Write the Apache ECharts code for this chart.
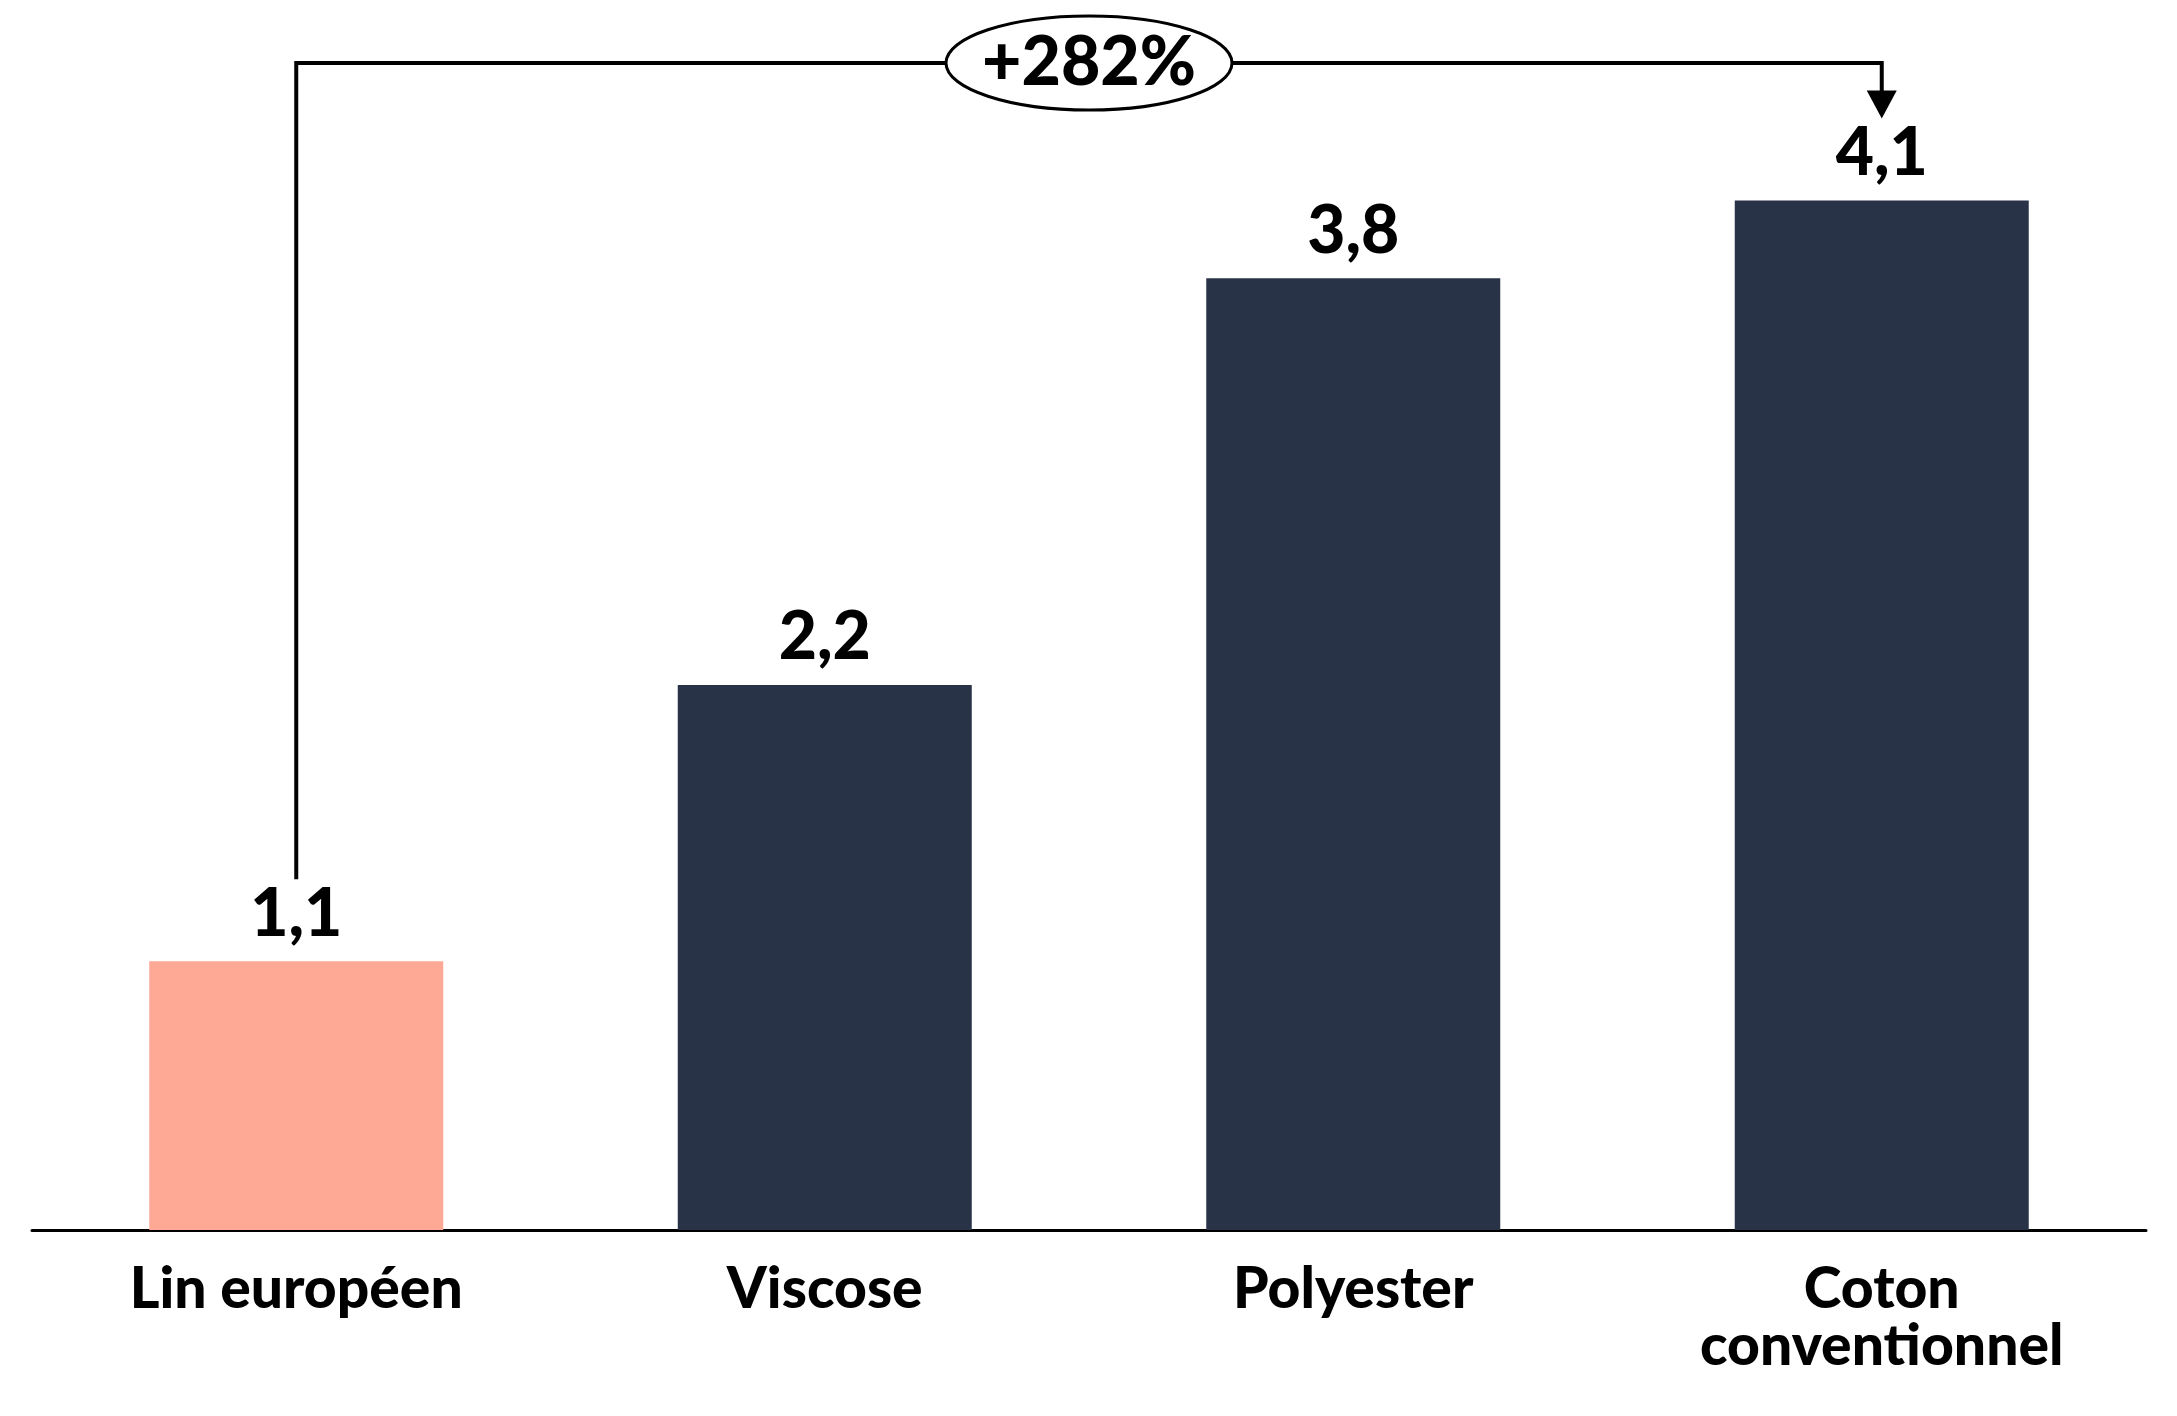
<!DOCTYPE html>
<html>
<head>
<meta charset="utf-8">
<script src="https://cdn.jsdelivr.net/npm/echarts@6/dist/echarts.min.js"></script>
<style>
html,body{margin:0;padding:0;background:#fff;}
#chart{width:2177px;height:1416px;}
</style>
</head>
<body>
<div id="chart"></div>
<script>
const categories = ['Lin européen', 'Viscose', 'Polyester', 'Coton\nconventionnel'];
const values = [1.07, 2.17, 3.79, 4.10];
const valueLabels = ['1,1', '2,2', '3,8', '4,1'];
const barColors = ['#FEA995', '#283347', '#283347', '#283347'];
const changeLabel = '+282%';
const fromIndex = 0;
const toIndex = 3;

const FONT = 'Lato';
const chart = echarts.init(document.getElementById('chart'), null, {renderer: 'canvas'});

const option = {
  animation: false,
  backgroundColor: '#ffffff',
  grid: {left: 32, top: 100, width: 2114, height: 1130, containLabel: false},
  xAxis: {
    type: 'category',
    data: categories,
    boundaryGap: true,
    axisLine: {show: true, lineStyle: {color: '#000', width: 3}},
    axisTick: {show: false},
    axisLabel: {
      interval: 0,
      margin: 31,
      color: '#000',
      fontFamily: FONT,
      fontWeight: 900,
      fontSize: 57,
      lineHeight: 57
    }
  },
  yAxis: {
    type: 'value',
    min: 0,
    max: 4.5,
    show: false,
    splitLine: {show: false}
  },
  series: [{
    type: 'bar',
    barWidth: 294,
    data: values.map((v, i) => ({value: v, itemStyle: {color: barColors[i]}})),
    label: {
      show: true,
      position: 'top',
      distance: 14,
      color: '#000',
      fontFamily: FONT,
      fontWeight: 900,
      fontSize: 66,
      formatter: p => valueLabels[p.dataIndex]
    }
  }]
};
chart.setOption(option);

// Bracket annotation computed from data coordinates
const pFrom = chart.convertToPixel({seriesIndex: 0}, [fromIndex, values[fromIndex]]);
const pTo = chart.convertToPixel({seriesIndex: 0}, [toIndex, values[toIndex]]);
const gap = 82;
const yTop = 63;
const arrowH = 28, arrowW = 30;
const x1 = pFrom[0], y1 = pFrom[1] - gap;
const x2 = pTo[0], y2 = pTo[1] - gap;
const midX = (x1 + x2) / 2;

chart.setOption({
  graphic: [
    {
      type: 'polyline',
      shape: {points: [[x1, y1], [x1, yTop], [x2, yTop], [x2, y2 - arrowH + 2]]},
      style: {stroke: '#000', lineWidth: 4, fill: null, lineJoin: 'miter'},
      z: 10
    },
    {
      type: 'polygon',
      shape: {points: [[x2 - arrowW / 2, y2 - arrowH], [x2 + arrowW / 2, y2 - arrowH], [x2, y2]]},
      style: {fill: '#000'},
      z: 10
    },
    {
      type: 'ellipse',
      shape: {cx: midX, cy: yTop, rx: 143, ry: 47},
      style: {fill: '#fff', stroke: '#000', lineWidth: 3},
      z: 11
    },
    {
      type: 'text',
      x: midX,
      y: yTop,
      style: {
        text: changeLabel,
        fill: '#000',
        font: '900 68px ' + FONT,
        align: 'center',
        verticalAlign: 'middle'
      },
      z: 12
    }
  ]
});
</script>
</body>
</html>
